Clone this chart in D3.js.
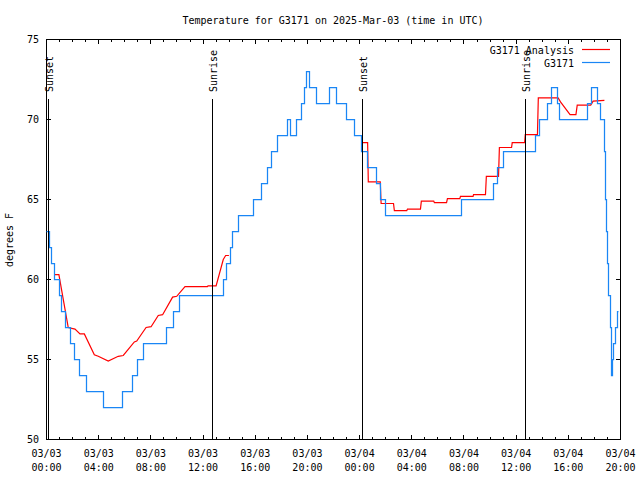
<!DOCTYPE html>
<html><head><meta charset="utf-8">
<script src="https://cdn.jsdelivr.net/npm/d3@7"></script>
<style>
body{margin:0;background:#fff}
svg{display:block;background:#fff}
text{font-family:"DejaVu Sans Mono",monospace;font-size:10px;fill:#000}
</style>
</head><body>
<svg id="c" width="640" height="480"></svg>
<script>
// ---------------- data ----------------
const chartTitle = "Temperature for G3171 on 2025-Mar-03 (time in UTC)";
const yAxisLabel = "degrees F";
const xDomain = ["03-03 00:00", "03-04 20:00"];
const yDomain = [50, 75];
const yTickValues = [50, 55, 60, 65, 70, 75];
const seriesNames = ["G3171 Analysis", "G3171"];
const seriesColors = ["#ff0000", "#1a86f5"];

const sunLabels = ["Sunset", "Sunrise", "Sunset", "Sunrise"];
const sunTimes = ["03-03 00:09", "03-03 12:43", "03-04 00:13", "03-04 12:43"];

// G3171 Analysis (null = gap)
const anaTime = ["03-03 00:39","03-03 00:57","03-03 01:40","03-03 02:11","03-03 02:34","03-03 02:54","03-03 03:40","03-03 03:58","03-03 04:44","03-03 05:30","03-03 05:53","03-03 06:44","03-03 06:55","03-03 07:38","03-03 08:01","03-03 08:34","03-03 08:54","03-03 09:40","03-03 09:59","03-03 10:37","03-03 12:20","03-03 12:23","03-03 13:00","03-03 13:33","03-03 13:44","03-03 13:59","03-03 14:00",
"03-04 00:07","03-04 00:37","03-04 00:40","03-04 01:35","03-04 01:39","03-04 02:36","03-04 02:40","03-04 03:37","03-04 03:40","03-04 04:40","03-04 04:44","03-04 05:41","03-04 05:44","03-04 06:40","03-04 06:44","03-04 07:41","03-04 07:44","03-04 08:42","03-04 08:44","03-04 09:39","03-04 09:43","03-04 10:39","03-04 10:43","03-04 11:39","03-04 11:42","03-04 12:39","03-04 12:42","03-04 13:38","03-04 13:42","03-04 15:13","03-04 15:24","03-04 16:08","03-04 16:35","03-04 16:41","03-04 17:43","03-04 17:54","03-04 18:46"];
const anaTemp = [60.3,60.3,57.0,56.9,56.6,56.6,55.3,55.2,54.9,55.2,55.25,56.1,56.15,57.0,57.05,57.75,57.8,58.9,58.95,59.55,59.55,59.6,59.6,61.25,61.5,61.5,null,
68.55,68.55,66.1,66.1,64.75,64.75,64.3,64.3,64.4,64.4,64.9,64.9,64.8,64.8,65.05,65.05,65.2,65.2,65.3,65.3,66.45,66.45,68.25,68.25,68.55,68.55,69.05,69.05,71.35,71.35,71.1,70.3,70.3,70.9,70.9,71.15,71.2];

// G3171 observations (value holds until next change)
const obsTime = ["03-03 00:02","03-03 00:14","03-03 00:23","03-03 00:37","03-03 01:00","03-03 01:11","03-03 01:27","03-03 01:50","03-03 02:09","03-03 02:30","03-03 03:06","03-03 04:22","03-03 05:49","03-03 06:36","03-03 06:59","03-03 07:24","03-03 09:10","03-03 09:42","03-03 10:12","03-03 13:36","03-03 13:50","03-03 14:04","03-03 14:16","03-03 14:41","03-03 15:52","03-03 16:27","03-03 16:57","03-03 17:15","03-03 17:43","03-03 18:29","03-03 18:42","03-03 19:10","03-03 19:35","03-03 19:47","03-03 19:58","03-03 20:10","03-03 20:42","03-03 21:42","03-03 22:12","03-03 23:02","03-03 23:37",
"03-04 00:11","03-04 00:37","03-04 01:18","03-04 01:36","03-04 01:59","03-04 07:51","03-04 10:18","03-04 10:34","03-04 11:02","03-04 13:27","03-04 13:48","03-04 14:22","03-04 14:41","03-04 15:08","03-04 15:20","03-04 17:28","03-04 17:45","03-04 18:12","03-04 18:26","03-04 18:48","03-04 18:53","03-04 18:57","03-04 19:02","03-04 19:07","03-04 19:12","03-04 19:17","03-04 19:20","03-04 19:23","03-04 19:30","03-04 19:37","03-04 19:46","03-04 19:53"];
const obsTemp = [63,62,61,60,59,58,57,56,55,54,53,52,53,54,55,56,57,58,59,60,61,62,63,64,65,66,67,68,69,70,69,70,71,72,73,72,71,72,71,70,69,
68,67,66,65,64,65,66,67,68,69,70,71,72,71,70,71,72,71,70,68,65,63,61,59,57,55,54,55,56,57,58,58];

// ---------------- chart ----------------
const parse = d3.utcParse("%m-%d %H:%M");
const svg = d3.select("#c");
const L = 46, R = 620, T = 39, B = 439;

const x = d3.scaleUtc().domain(xDomain.map(parse)).range([L, R]);
const y = d3.scaleLinear().domain(yDomain).range([B, T]);

// axes
function clean(g){ g.select(".domain").remove(); g.attr("font-family", null).attr("font-size", null); }
const majorT = d3.utcHour.every(4), minorT = d3.utcHour.every(1);
const fmtD = d3.utcFormat("%m/%d"), fmtH = d3.utcFormat("%H:%M");

svg.append("g").attr("transform", `translate(0,${B+1})`)
  .call(d3.axisBottom(x).ticks(minorT).tickSize(-3).tickFormat(() => "")).call(clean);
svg.append("g").attr("transform", `translate(0,${T})`)
  .call(d3.axisTop(x).ticks(minorT).tickSize(-3).tickFormat(() => "")).call(clean);
svg.append("g").attr("transform", `translate(0,${T})`)
  .call(d3.axisTop(x).ticks(majorT).tickSize(-5).tickFormat(() => "")).call(clean);
const bx = svg.append("g").attr("transform", `translate(0,${B+1})`)
  .call(d3.axisBottom(x).ticks(majorT).tickSize(-5).tickFormat(fmtD)).call(clean);
bx.selectAll(".tick text").each(function(d){
  const t = d3.select(this).text(null).attr("y", null).attr("dy", null);
  t.append("tspan").attr("x", 0).attr("y", 17).text(fmtD(d));
  t.append("tspan").attr("x", 0).attr("y", 31).text(fmtH(d));
});
svg.append("g").attr("transform", `translate(${L},0)`)
  .call(d3.axisLeft(y).tickValues(yTickValues).tickSize(-5).tickPadding(7)).call(clean);
svg.append("g").attr("transform", `translate(${R+1},0)`)
  .call(d3.axisRight(y).tickValues(yTickValues).tickSize(-5).tickFormat(() => "")).call(clean);
svg.selectAll(".tick line").attr("stroke", "#000").attr("shape-rendering", "crispEdges");

// frame
svg.append("rect").attr("x", L + 0.5).attr("y", T + 0.5).attr("width", R - L).attr("height", B - T)
  .attr("fill", "none").attr("stroke", "#000").attr("shape-rendering", "crispEdges");

// data
const plot = svg.append("g").attr("transform", "translate(0.5,0.5)");
const ana = anaTime.map((t, i) => ({t: parse(t), v: anaTemp[i]}));
const obs = obsTime.map((t, i) => ({t: parse(t), v: obsTemp[i]}));
plot.append("path").datum(ana)
  .attr("d", d3.line().defined(d => d.v != null).x(d => x(d.t)).y(d => y(d.v)))
  .attr("fill", "none").attr("stroke", seriesColors[0]).attr("stroke-width", 1.2);
plot.append("path").datum(obs)
  .attr("d", d3.line().curve(d3.curveStepAfter).x(d => Math.round(x(d.t))).y(d => Math.round(y(d.v))))
  .attr("fill", "none").attr("stroke", seriesColors[1]).attr("stroke-width", 1.25);

// sunrise / sunset markers
sunTimes.forEach((s, i) => {
  const px = Math.round(x(parse(s))) + 0.5;
  svg.append("line").attr("x1", px).attr("x2", px).attr("y1", 99).attr("y2", B + 0.5)
    .attr("stroke", "#000").attr("shape-rendering", "crispEdges");
  svg.append("text").attr("transform", `translate(${px + 4},92) rotate(-90)`).text(sunLabels[i]);
});

// title & y label
svg.append("text").attr("x", 333).attr("y", 23.5).attr("text-anchor", "middle").text(chartTitle);
svg.append("text").attr("transform", "translate(13,240) rotate(-90)").attr("text-anchor", "middle").text(yAxisLabel);

// legend
seriesNames.forEach((n, i) => {
  const by = 53.5 + i * 13;
  svg.append("text").attr("x", 574).attr("y", by).attr("text-anchor", "end").text(n);
  svg.append("line").attr("x1", 582).attr("x2", 610).attr("y1", by - 4).attr("y2", by - 4)
    .attr("stroke", seriesColors[i]).attr("stroke-width", 1.2);
});
</script>
</body></html>
